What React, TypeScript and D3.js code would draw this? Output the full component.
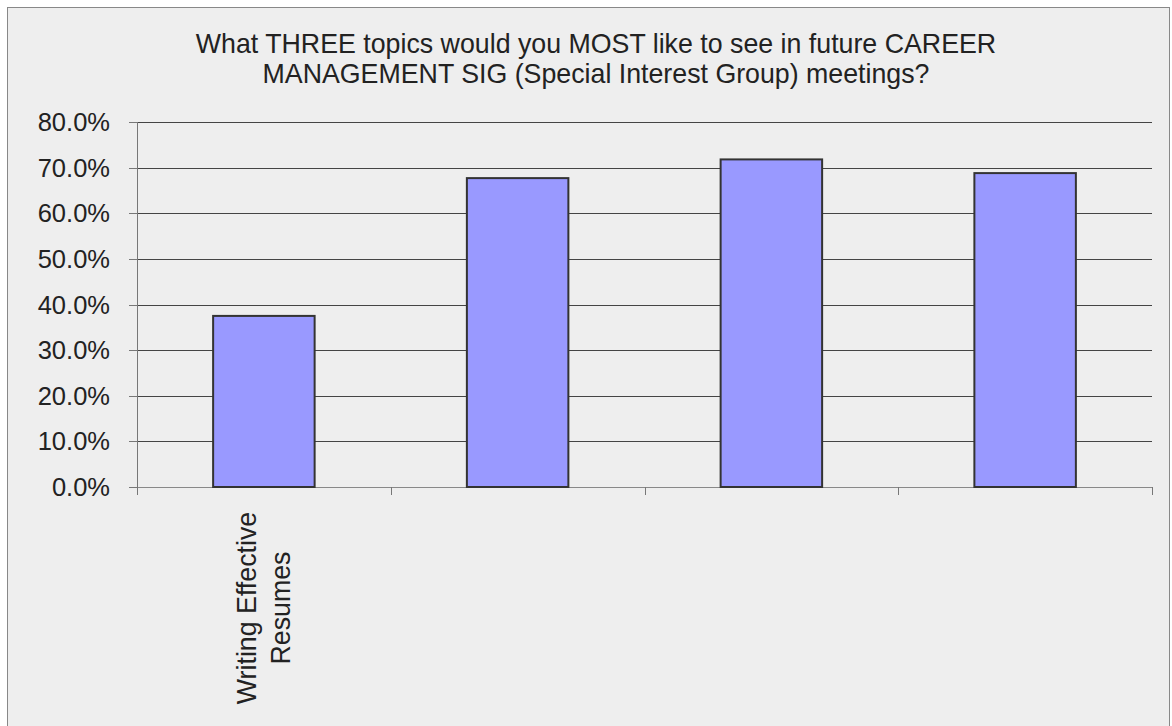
import React from "react";
import * as d3 from "d3";

const categories = ["Writing Effective Resumes", "Topic 2", "Topic 3", "Topic 4"];
const categoryLabels = [["Writing Effective", "Resumes"], [], [], []];
const values = [0.375, 0.677, 0.718, 0.688];
const yTicks = [0, 0.1, 0.2, 0.3, 0.4, 0.5, 0.6, 0.7, 0.8];
const titleLines = [
  "What THREE topics would you MOST like to see in future CAREER",
  "MANAGEMENT SIG (Special Interest Group) meetings?",
];

export default function App() {
  const W = 1172, H = 726;
  const left = 137, right = 1152, top = 122, bottom = 487;
  const x = d3.scaleBand<string>().domain(categories).range([left, right]).paddingInner(0.6).paddingOuter(0.3);
  const step = (right - left) / categories.length;
  const y = d3.scaleLinear().domain([0, 0.8]).range([bottom, top]);
  const fmt = d3.format(".1%");
  const font = "'Liberation Sans', Arial, sans-serif";
  const boundaries = d3.range(categories.length + 1).map((i) => left + i * step);

  return (
    <svg width={W} height={H} style={{ position: "absolute", left: 0, top: 0 }}>
      <rect x={0} y={0} width={W} height={H} fill="#ffffff" />
      <rect x={7.5} y={7.5} width={1162} height={730} fill="#eeeeee" stroke="#888888" strokeWidth={1} />
      {titleLines.map((t, i) => (
        <text key={i} x={596} y={53 + i * 30} textAnchor="middle" fontFamily={font} fontSize={26.75} fill="#222">
          {t}
        </text>
      ))}
      {yTicks.map((t) => (
        <g key={t}>
          {t > 0 && (
            <line x1={left} x2={right} y1={Math.round(y(t)) + 0.5} y2={Math.round(y(t)) + 0.5} stroke="#444" strokeWidth={1} />
          )}
          <line x1={129} x2={left} y1={Math.round(y(t)) + 0.5} y2={Math.round(y(t)) + 0.5} stroke="#777" strokeWidth={1} />
          <text x={110} y={y(t) + 9} textAnchor="end" fontFamily={font} fontSize={25.5} fill="#222">
            {fmt(t)}
          </text>
        </g>
      ))}
      <line x1={left + 0.5} x2={left + 0.5} y1={top} y2={bottom + 8} stroke="#777" strokeWidth={1} />
      <line x1={left} x2={right} y1={bottom + 0.5} y2={bottom + 0.5} stroke="#888" strokeWidth={1} />
      {boundaries.map((b, i) => (
        <line key={i} x1={Math.round(b) + 0.5} x2={Math.round(b) + 0.5} y1={bottom} y2={bottom + 8} stroke="#777" strokeWidth={1} />
      ))}
      {categories.map((c, i) => (
        <rect
          key={c}
          x={x(c)!}
          y={y(values[i])}
          width={x.bandwidth()}
          height={bottom - y(values[i])}
          fill="#9999ff"
          stroke="#333"
          strokeWidth={2}
        />
      ))}
      {categories.map((c, i) => {
        const cx = x(c)! + x.bandwidth() / 2;
        const lines = categoryLabels[i];
        const n = lines.length;
        return (
          <g key={c + "l"} transform={`translate(${cx},608) rotate(-90)`}>
            {lines.map((l, j) => (
              <text
                key={j}
                x={0}
                y={(j - (n - 1) / 2) * 34 + 9}
                textAnchor="middle"
                fontFamily={font}
                fontSize={26.75}
                fill="#222"
              >
                {l}
              </text>
            ))}
          </g>
        );
      })}
    </svg>
  );
}
